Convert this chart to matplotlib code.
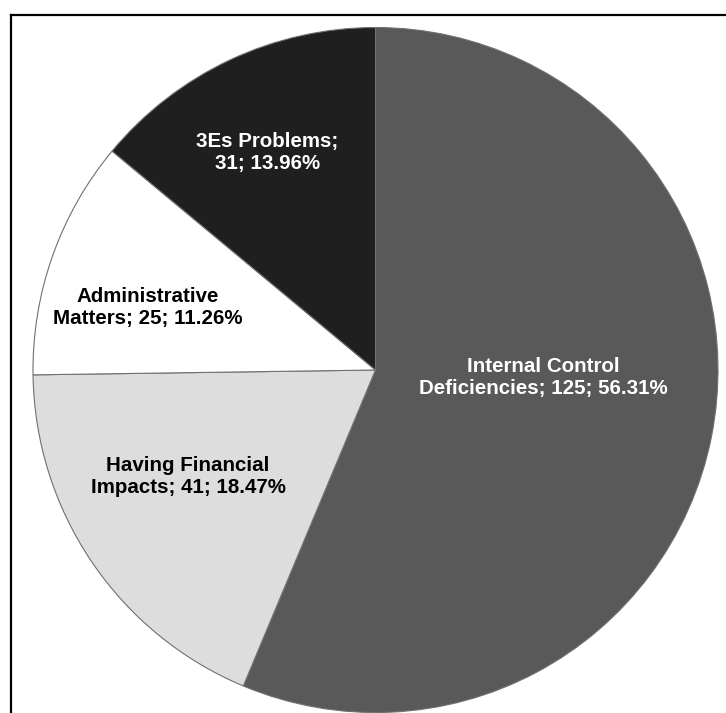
import matplotlib
matplotlib.use("Agg")
import matplotlib.pyplot as plt
from matplotlib.lines import Line2D
import numpy as np

# DATA
categories = ["Internal Control\nDeficiencies", "Having Financial\nImpacts",
              "Administrative\nMatters", "3Es Problems;\n"]
counts = [125, 41, 25, 31]
percents = [56.31, 18.47, 11.26, 13.96]
colors = ["#595959", "#dddddd", "#ffffff", "#1f1f1f"]
text_colors = ["white", "black", "black", "white"]

# label placement (fraction of radius, angle offset from wedge middle in degrees)
label_r = [0.49, 0.63, 0.69, 0.71]
label_dang = [8.7, -4.4, 4.1, 1.2]

plt.rcParams["font.family"] = ["Liberation Sans", "DejaVu Sans"]

W, H = 726, 713
fig = plt.figure(figsize=(W / 100, H / 100), dpi=100)
cx, cy, r = 375.5, 370, 342.5
ax = fig.add_axes([(cx - r) / W, (H - cy - r) / H, 2 * r / W, 2 * r / H])

wedges, _ = ax.pie(counts, colors=colors, startangle=90, counterclock=False,
                   wedgeprops=dict(edgecolor="#707070", linewidth=0.8))
ax.set_xlim(-1, 1)
ax.set_ylim(-1, 1)
ax.set_aspect("auto")
ax.axis("off")

for i, w in enumerate(wedges):
    mid = np.deg2rad((w.theta1 + w.theta2) / 2 + label_dang[i])
    x = label_r[i] * np.cos(mid)
    y = label_r[i] * np.sin(mid)
    if categories[i].endswith("\n"):
        txt = f"{categories[i]}{counts[i]}; {percents[i]:.2f}%"
    else:
        txt = f"{categories[i]}; {counts[i]}; {percents[i]:.2f}%"
    ax.text(x, y, txt, ha="center", va="center", color=text_colors[i],
            fontsize=14.8, fontweight="bold", linespacing=1.2)

# frame (only top and left edges fall inside the picture)
fig.add_artist(Line2D([11 / W, 1], [1 - 15 / H, 1 - 15 / H], color="black",
                      linewidth=1.6, transform=fig.transFigure))
fig.add_artist(Line2D([11 / W, 11 / W], [0, 1 - 15 / H], color="black",
                      linewidth=1.6, transform=fig.transFigure))

fig.savefig("out.png", dpi=100, facecolor="white")
